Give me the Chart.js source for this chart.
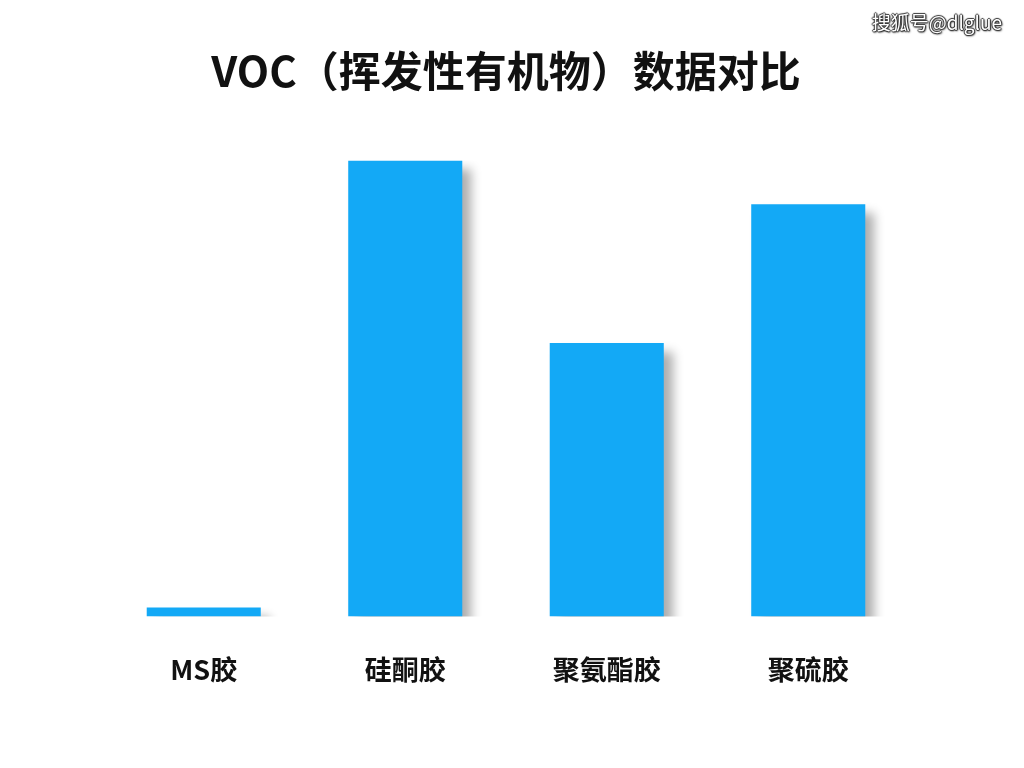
<!DOCTYPE html>
<html>
<head>
<meta charset="utf-8">
<script src="https://cdn.jsdelivr.net/npm/chart.js@4/dist/chart.umd.min.js"></script>
<style>
  html, body { margin: 0; padding: 0; background: #ffffff; }
  #wrap { position: relative; width: 1024px; height: 768px; }
  #wm {
    position: absolute; right: 22px; top: 8px;
    font-family: "Noto Sans CJK SC", "Noto Sans", sans-serif;
    font-size: 19px; color: #ffffff;
    text-shadow: 1px 0 1px #333, -1px 0 1px #333, 0 1px 1px #333, 0 -1px 1px #333, 1px 1px 2px #222;
  }
</style>
</head>
<body>
<div id="wrap">
  <canvas id="c" width="1024" height="768"></canvas>
  <div id="wm">搜狐号@dlglue</div>
</div>
<script>
const titleText = 'VOC（挥发性有机物）数据对比';
const categories = ['MS胶', '硅酮胶', '聚氨酯胶', '聚硫胶'];
const vocValues = [2, 100, 60, 90.4];

const shadowPlugin = {
  id: 'barShadow',
  beforeDatasetsDraw(chart) {
    const ctx = chart.ctx;
    ctx.save();
    ctx.shadowColor = 'rgba(0,0,0,0.32)';
    ctx.shadowBlur = 10;
    ctx.shadowOffsetX = 9;
    ctx.shadowOffsetY = 9;
  },
  afterDatasetsDraw(chart) {
    chart.ctx.restore();
  }
};

new Chart(document.getElementById('c'), {
  type: 'bar',
  data: {
    labels: categories,
    datasets: [{
      data: vocValues,
      backgroundColor: '#13A9F6',
      borderWidth: 0,
      barPercentage: 1,
      categoryPercentage: 0.566
    }]
  },
  options: {
    responsive: false,
    animation: false,
    events: [],
    layout: { padding: { left: 103, right: 115, top: 0, bottom: 53 } },
    plugins: {
      legend: { display: false },
      tooltip: { enabled: false },
      title: {
        display: true,
        text: titleText,
        color: '#111111',
        font: { family: '"Noto Sans CJK SC", "Noto Sans", sans-serif', size: 42, weight: 'bold', lineHeight: 1.2 },
        padding: { top: 46, bottom: 64 }
      }
    },
    scales: {
      x: {
        grid: { display: false },
        border: { display: false },
        offset: true,
        ticks: {
          color: '#111111',
          padding: 29,
          font: { family: '"Noto Sans CJK SC", "Noto Sans", sans-serif', size: 27, weight: 'bold', lineHeight: 1.2 }
        }
      },
      y: {
        display: false,
        min: 0,
        max: 100
      }
    }
  },
  plugins: [shadowPlugin]
});
</script>
</body>
</html>
